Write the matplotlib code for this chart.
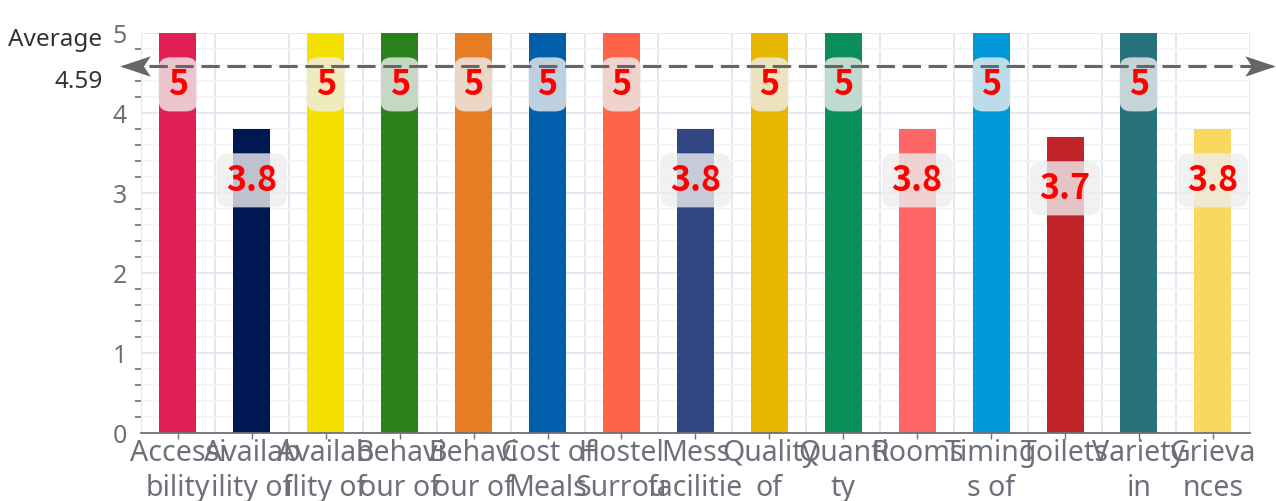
import numpy as np
import matplotlib.pyplot as plt
from matplotlib.path import Path
from matplotlib.ticker import MultipleLocator

plt.rcParams["font.family"] = ["Noto Sans", "DejaVu Sans"]

# ---- data ----
categories = ["Accessi\nbility", "Availab\nility of", "Availab\nility of", "Behavi\nour of",
              "Behavi\nour of", "Cost of\nMeals", "Hostel\nSurrou", "Mess\nfacilitie",
              "Quality\nof", "Quanti\nty", "Rooms", "Timing\ns of", "Toilets",
              "Variety\nin", "Grieva\nnces"]
scores = [5, 3.8, 5, 5, 5, 5, 5, 3.8, 5, 5, 3.8, 5, 3.7, 5, 3.8]
colors = ["#e01f54", "#001852", "#f5e100", "#2b821d", "#e87c25", "#005eaa", "#ff6449",
          "#2f4683", "#e6b600", "#0b8f5a", "#ff6666", "#0098d9", "#c1232b", "#27727b",
          "#fad860"]
average = round(float(np.mean(scores)), 2)

axis_grey = "#6e7079"

fig = plt.figure(figsize=(12.76, 5.01), dpi=100)
ax = fig.add_axes([0.1105, 0.1357, 0.869, 0.798])

x = np.arange(len(scores))
ax.bar(x, scores, width=0.5, color=colors, zorder=2)

ax.set_xlim(-0.5, len(scores) - 0.5)
ax.set_ylim(0, 5)

# grid: integer lines, light 0.2 lines, vertical lines between categories
ax.yaxis.set_major_locator(MultipleLocator(1))
ax.yaxis.set_minor_locator(MultipleLocator(0.2))
ax.set_xticks(x)
ax.set_xticks(np.arange(-0.5, len(scores), 1), minor=True)
ax.grid(which="major", axis="y", color="#e0e6f1", lw=1.3, zorder=0)
ax.grid(which="minor", axis="y", color="#f3f5f9", lw=1.3, zorder=0)
ax.grid(which="minor", axis="x", color="#e0e6f1", lw=1.3, zorder=0)
ax.set_axisbelow(True)

for s in ["top", "right", "left"]:
    ax.spines[s].set_visible(False)
ax.spines["bottom"].set_color(axis_grey)
ax.spines["bottom"].set_linewidth(1.3)

ax.set_xticklabels(categories, fontsize=20.5, color=axis_grey, linespacing=1.3, va="top")
ax.tick_params(axis="x", which="major", length=4, width=1, color=axis_grey, pad=0)
ax.tick_params(axis="x", which="minor", length=0)
ax.tick_params(axis="y", which="major", length=0, pad=10, labelsize=18, labelcolor=axis_grey)
ax.tick_params(axis="y", which="minor", length=4.5, width=1.2, color=axis_grey)

# value labels
for i, v in enumerate(scores):
    ax.text(i, v - 0.64, f"{v:g}", ha="center", va="center", color="red",
            fontsize=24.5, fontweight="bold", family=["Noto Sans CJK SC", "DejaVu Sans"],
            zorder=4,
            bbox=dict(boxstyle="round,pad=0.28,rounding_size=0.35", fc="#eeeeee",
                      ec="none", alpha=0.8))

# average line with arrow heads on both ends
x0, x1 = ax.get_xlim()
ax.plot([x0 - 0.25, x1 + 0.3], [average, average], color="#666666", lw=2.2,
        ls=(0, (6, 2.5)), clip_on=False, zorder=5)
head = Path([(-1, 0), (1, 0.67), (0.55, 0), (1, -0.67), (-1, 0)],
            [Path.MOVETO, Path.LINETO, Path.LINETO, Path.LINETO, Path.CLOSEPOLY])
head_r = Path([(1, 0), (-1, 0.67), (-0.55, 0), (-1, -0.67), (1, 0)],
              [Path.MOVETO, Path.LINETO, Path.LINETO, Path.LINETO, Path.CLOSEPOLY])
ax.plot([x0 - 0.08], [average], marker=head, ms=22, color="#666666", mew=0,
        clip_on=False, zorder=6)
ax.plot([x1 + 0.14], [average], marker=head_r, ms=22, color="#666666", mew=0,
        clip_on=False, zorder=6)
ax.text(x0 - 0.52, average + 0.06, f"Average\n{average:.2f}", ha="right", va="center",
        fontsize=17.5, color="#333333", linespacing=2.0, multialignment="right")

fig.savefig("out.png", dpi=100)
